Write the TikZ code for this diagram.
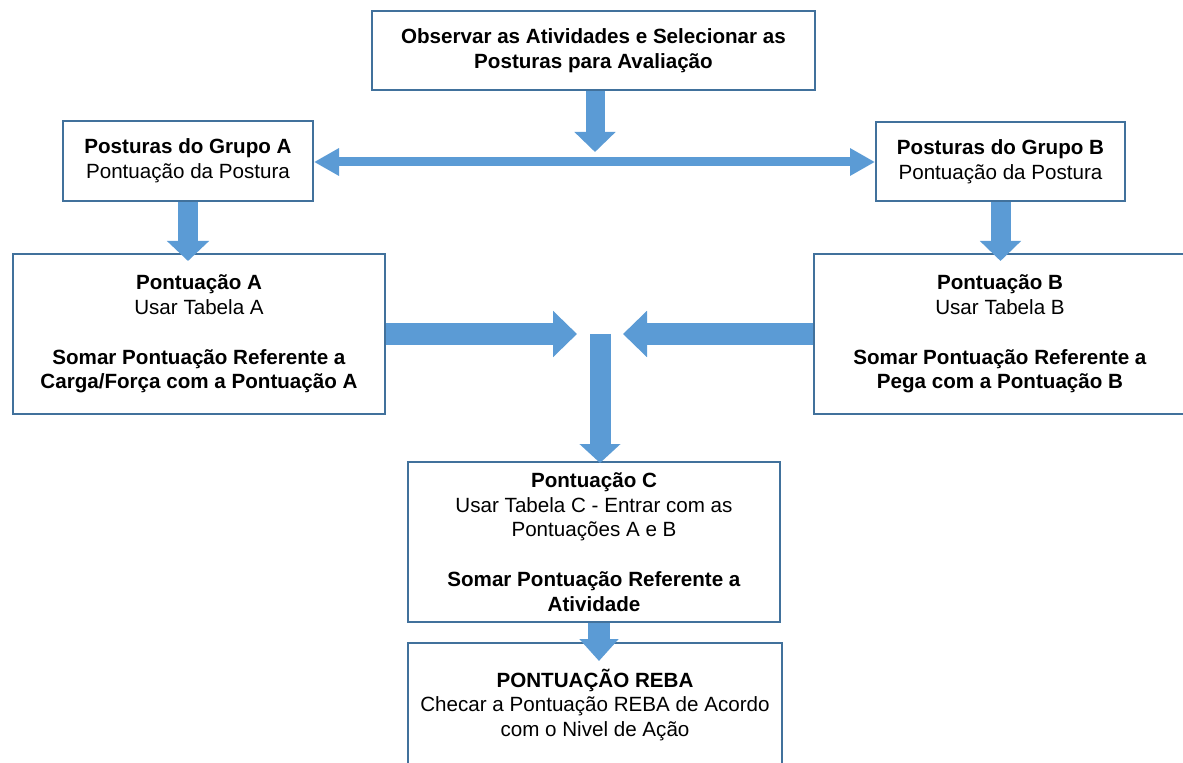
\documentclass[tikz,border=0pt]{standalone}
\usepackage{fontspec}
\setmainfont{Liberation Sans}
\usetikzlibrary{arrows.meta}
\newlength\px \setlength\px{0.75pt}
\definecolor{boxline}{HTML}{41719C}
\definecolor{arrowfill}{HTML}{5B9BD5}

\begin{document}
\begin{tikzpicture}[x=0.75pt,y=-0.75pt,
  caixa/.style={draw=boxline, line width=2\px, fill=white, align=center, inner sep=0pt,
    font=\fontsize{15.45}{18.6}\selectfont},
  seta/.style n args={3}{draw=arrowfill, line width=#1, -{Triangle[length=#2, width=#3]}},
  setadupla/.style n args={3}{draw=arrowfill, line width=#1,
    {Triangle[length=#2, width=#3]}-{Triangle[length=#2, width=#3]}}]%REBA
\useasboundingbox (0,0) rectangle (1183,763);
\node[caixa, minimum width=443\px, minimum height=79\px] (obs) at (593.5,50.5)
  {\textbf{Observar as Atividades e Selecionar as}\\\textbf{Posturas para Avalia\c{c}\~ao}};
\node[caixa, minimum width=250\px, minimum height=80\px] (grpA) at (188,161)
  {\textbf{Posturas do Grupo A}\\Pontua\c{c}\~ao da Postura};
\node[caixa, minimum width=249\px, minimum height=79\px] (grpB) at (1000.5,161.5)
  {\textbf{Posturas do Grupo B}\\Pontua\c{c}\~ao da Postura};
\node[caixa, minimum width=372\px, minimum height=160\px] (ptA) at (199,334)
  {\textbf{Pontua\c{c}\~ao A}\\Usar Tabela A\\[24.8\px]\textbf{Somar Pontua\c{c}\~ao Referente a}\\\textbf{Carga/For\c{c}a com a Pontua\c{c}\~ao A}};
\node[caixa, minimum width=372\px, minimum height=160\px] (ptB) at (1000,334)
  {\textbf{Pontua\c{c}\~ao B}\\Usar Tabela B\\[24.8\px]\textbf{Somar Pontua\c{c}\~ao Referente a}\\\textbf{Pega com a Pontua\c{c}\~ao B}};
\node[caixa, minimum width=372\px, minimum height=160\px] (ptC) at (594,542)
  {\textbf{Pontua\c{c}\~ao C}\\Usar Tabela C - Entrar com as\\Pontua\c{c}\~oes A e B\\[24.8\px]\textbf{Somar Pontua\c{c}\~ao Referente a}\\\textbf{Atividade}};
\node[caixa, minimum width=374\px, minimum height=124\px] (reba) at (595,705)
  {\textbf{PONTUA\c{C}\~AO REBA}\\Checar a Pontua\c{c}\~ao REBA de Acordo\\com o Nivel de A\c{c}\~ao};
\coordinate (topo) at (595,152);
\coordinate (centro) at (600,334);
\draw[seta={14.25pt}{15pt}{30pt}] (obs.south -| topo) -- (topo);
\draw[setadupla={6.75pt}{18.75pt}{19.5pt}] ([yshift=-1\px]grpA.east) -- ([yshift=-1\px]grpB.west |- grpA.east);
\draw[seta={15pt}{15pt}{30.75pt}, shorten >=-8\px] (grpA.south) -- (grpA.south |- ptA.north);
\draw[seta={15pt}{15pt}{30pt}, shorten >=-8\px] (grpB.south) -- (grpB.south |- ptB.north);
\draw[seta={16.5pt}{18pt}{33.75pt}, shorten >=23\px] (ptA.east |- centro) -- (centro);
\draw[seta={16.5pt}{18pt}{33.75pt}, shorten >=23\px] (ptB.west |- centro) -- (centro);
\draw[seta={15.75pt}{14.25pt}{30pt}, shorten >=-2\px] (centro) -- (centro |- ptC.north);
\draw[seta={16.5pt}{16.5pt}{28.5pt}, shorten >=-19\px] ([xshift=5\px]ptC.south) -- ([xshift=5\px]ptC.south |- reba.north);
\end{tikzpicture}
\end{document}
